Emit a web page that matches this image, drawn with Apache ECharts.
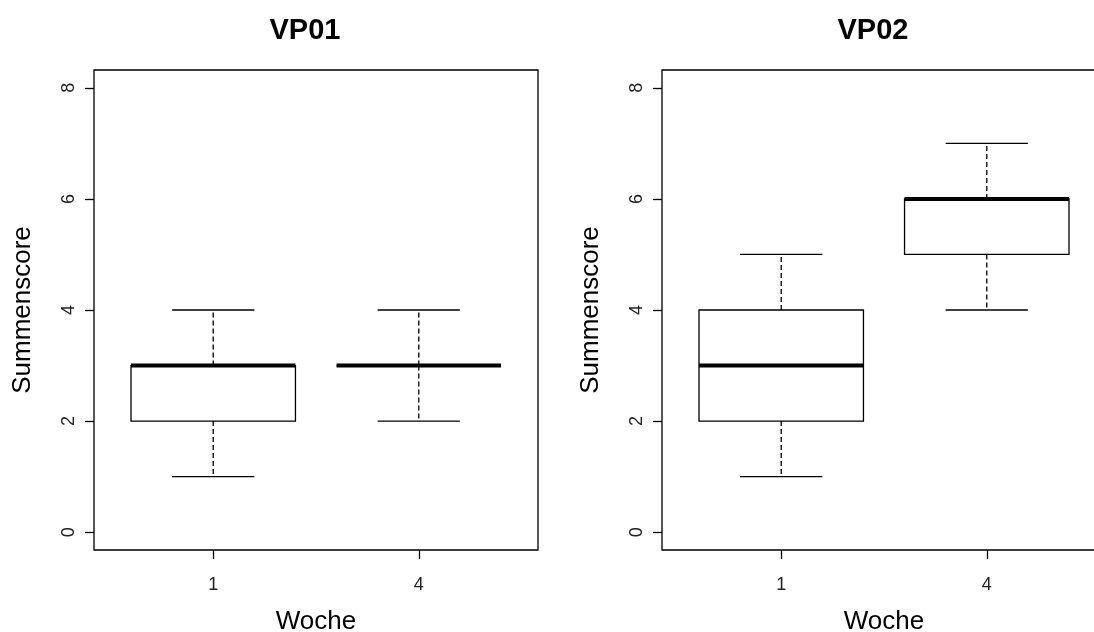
<!DOCTYPE html>
<html>
<head>
    <meta charset="utf-8">
    <title>VP01 / VP02 Summenscore</title>
    <script src="https://cdn.jsdelivr.net/npm/echarts@6/dist/echarts.min.js"></script>
</head>
<body style="margin:0;background:#fff">
    <div id="main" style="width:1094px;height:632px;"></div>
    <script type="text/javascript">
        var myChart = echarts.init(document.getElementById('main'));

        // week labels and box positions
        var weeks = ['1', '4'];
        var positions = [1, 2];

        // VP01 five-number summaries (per week)
        var vp01Min = [1, 2];
        var vp01Q1 = [2, 3];
        var vp01Median = [3, 3];
        var vp01Q3 = [3, 3];
        var vp01Max = [4, 4];

        // VP02 five-number summaries (per week)
        var vp02Min = [1, 4];
        var vp02Q1 = [2, 5];
        var vp02Median = [3, 6];
        var vp02Q3 = [4, 6];
        var vp02Max = [5, 7];

        var yTicks = [0, 2, 4, 6, 8];

        function boxData(mins, q1s, meds, q3s, maxs) {
            return positions.map(function (p, i) {
                return [p, mins[i], q1s[i], meds[i], q3s[i], maxs[i]];
            });
        }

        var font = 'Liberation Sans, Arial, sans-serif';

        function renderBox(params, api) {
            var x = api.value(0);
            var pMin = api.coord([x, api.value(1)]);
            var pQ1 = api.coord([x, api.value(2)]);
            var pMed = api.coord([x, api.value(3)]);
            var pQ3 = api.coord([x, api.value(4)]);
            var pMax = api.coord([x, api.value(5)]);
            var half = api.size([0.4, 0])[0];
            var cap = half / 2;
            var cx = pMed[0];
            var thin = { stroke: '#000', lineWidth: 1.3, fill: null };
            var dashed = { stroke: '#000', lineWidth: 1.3, lineDash: [5, 3] };
            return {
                type: 'group',
                children: [
                    { type: 'line', shape: { x1: cx, y1: pQ3[1], x2: cx, y2: pMax[1] }, style: dashed },
                    { type: 'line', shape: { x1: cx, y1: pQ1[1], x2: cx, y2: pMin[1] }, style: dashed },
                    { type: 'line', shape: { x1: cx - cap, y1: pMax[1], x2: cx + cap, y2: pMax[1] }, style: thin },
                    { type: 'line', shape: { x1: cx - cap, y1: pMin[1], x2: cx + cap, y2: pMin[1] }, style: thin },
                    { type: 'rect', shape: { x: cx - half, y: pQ3[1], width: half * 2, height: pQ1[1] - pQ3[1] }, style: thin },
                    { type: 'line', shape: { x1: cx - half, y1: pMed[1], x2: cx + half, y2: pMed[1] }, style: { stroke: '#000', lineWidth: 4 } }
                ]
            };
        }

        function xAxis(idx) {
            return {
                type: 'value', gridIndex: idx, min: 0.42, max: 2.58,
                name: 'Woche', nameLocation: 'middle', nameGap: 59,
                nameTextStyle: { fontFamily: font, fontSize: 26, color: '#000' },
                axisLine: { show: false, onZero: false },
                splitLine: { show: false },
                axisTick: { show: true, inside: false, length: 9, customValues: positions, lineStyle: { color: '#000', width: 1.3 } },
                axisLabel: {
                    customValues: positions, margin: 26,
                    fontFamily: font, fontSize: 18, color: '#222',
                    formatter: function (v) { return weeks[Math.round(v) - 1]; }
                }
            };
        }

        function yAxis(idx) {
            return {
                type: 'value', gridIndex: idx, min: -0.32, max: 8.32,
                name: 'Summenscore', nameLocation: 'middle', nameGap: 58,
                nameTextStyle: { fontFamily: font, fontSize: 26, color: '#000' },
                axisLine: { show: false, onZero: false },
                splitLine: { show: false },
                axisTick: { show: true, inside: false, length: 9, customValues: yTicks, lineStyle: { color: '#000', width: 1.3 } },
                axisLabel: {
                    customValues: yTicks, rotate: 90, margin: 16,
                    fontFamily: font, fontSize: 18, color: '#222'
                }
            };
        }

        var titleStyle = { fontFamily: font, fontSize: 29, fontWeight: 'bold', color: '#000' };

        var option = {
            animation: false,
            title: [
                { text: 'VP01', left: 300, top: 11, textAlign: 'center', textStyle: titleStyle },
                { text: 'VP02', left: 868, top: 11, textAlign: 'center', textStyle: titleStyle }
            ],
            grid: [
                { left: 94, top: 70, width: 444, height: 480, outerBoundsMode: 'none', containLabel: false, show: true, borderColor: '#000', borderWidth: 1.3, backgroundColor: 'transparent' },
                { left: 662, top: 70, width: 444, height: 480, outerBoundsMode: 'none', containLabel: false, show: true, borderColor: '#000', borderWidth: 1.3, backgroundColor: 'transparent' }
            ],
            xAxis: [xAxis(0), xAxis(1)],
            yAxis: [yAxis(0), yAxis(1)],
            series: [
                {
                    type: 'custom', xAxisIndex: 0, yAxisIndex: 0,
                    renderItem: renderBox,
                    encode: { x: 0, y: [1, 2, 3, 4, 5] },
                    data: boxData(vp01Min, vp01Q1, vp01Median, vp01Q3, vp01Max)
                },
                {
                    type: 'custom', xAxisIndex: 1, yAxisIndex: 1,
                    renderItem: renderBox,
                    encode: { x: 0, y: [1, 2, 3, 4, 5] },
                    data: boxData(vp02Min, vp02Q1, vp02Median, vp02Q3, vp02Max)
                }
            ]
        };

        myChart.setOption(option);
    </script>
</body>
</html>
